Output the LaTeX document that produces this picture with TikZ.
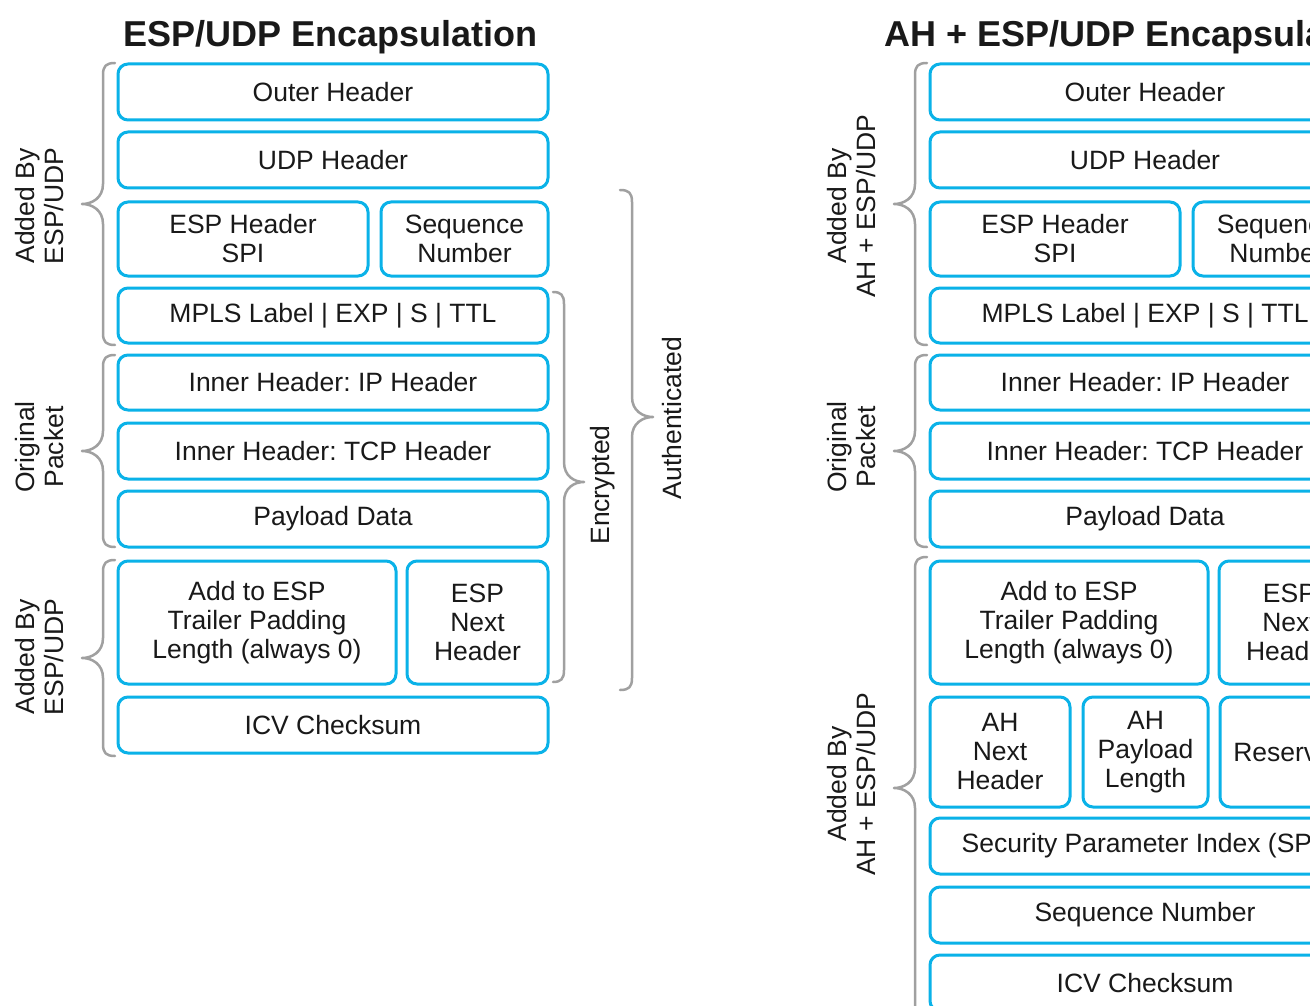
\documentclass[tikz,border=0pt]{standalone}
\usepackage{fontspec}
\setmainfont{Liberation Sans}
\frenchspacing
\definecolor{boxc}{RGB}{10,178,232}
\definecolor{brc}{RGB}{160,160,160}
\definecolor{txt}{RGB}{25,25,25}
\tikzset{
  pbox/.style={draw=boxc, line width=3pt, rounded corners=10pt, inner sep=0pt, outer sep=0pt,
    align=center, text=txt, font=\fontsize{26.5}{29}\selectfont},
  brc/.style={draw=brc, line width=2.5pt, line cap=round, line join=round},
  vlab/.style={rotate=90, align=center, text=txt, font=\fontsize{26.5}{29}\selectfont, inner sep=0pt},
  ttl/.style={anchor=base west, text=txt, font=\fontsize{36}{40}\selectfont\bfseries, inner sep=0pt}
}
\newcommand{\pbox}[6]{\node[pbox, minimum width={(#4-#2)*1pt}, minimum height={(#5-#3)*1pt}] (#1) at ({(#2+#4)/2},{(#3+#5)/2}) {#6};}
% brace pointing left: xe xv xt ytop ybot ytip
\newcommand{\bracL}[6]{\draw[brc] (#1,#4) .. controls (#2+3,#4) and (#2,#4+3) .. (#2,#4+12) -- (#2,#6-20) .. controls (#2,#6-6) and (#3+10,#6) .. (#3,#6) .. controls (#3+10,#6) and (#2,#6+6) .. (#2,#6+20) -- (#2,#5-12) .. controls (#2,#5-3) and (#2+3,#5) .. (#1,#5);}
% brace pointing right
\newcommand{\bracR}[6]{\draw[brc] (#1,#4) .. controls (#2-3,#4) and (#2,#4+3) .. (#2,#4+12) -- (#2,#6-20) .. controls (#2,#6-6) and (#3-10,#6) .. (#3,#6) .. controls (#3-10,#6) and (#2,#6+6) .. (#2,#6+20) -- (#2,#5-12) .. controls (#2,#5-3) and (#2-3,#5) .. (#1,#5);}
\begin{document}
\begin{tikzpicture}[x=1pt, y=-1pt]
\useasboundingbox (0,0) rectangle (1310,1006);
\clip (0,0) rectangle (1310,1006);
\fill[white] (0,0) rectangle (1310,1006);

% ---------- Left panel ----------
\node[ttl] (t1) at (123,47) {ESP/UDP Encapsulation};
\pbox{a1}{118}{64}{548}{120}{Outer Header}
\pbox{a2}{118}{132}{548}{188}{UDP Header}
\pbox{a3}{118}{202}{368}{276}{ESP Header\\SPI}
\pbox{a4}{381}{202}{548}{276}{Sequence\\Number}
\pbox{a5}{118}{288}{548}{343}{MPLS Label | EXP | S | TTL}
\pbox{a6}{118}{355}{548}{410}{Inner Header: IP Header}
\pbox{a7}{118}{423}{548}{479}{Inner Header: TCP Header}
\pbox{a8}{118}{491}{548}{547}{Payload Data}
\pbox{a9}{118}{561}{396}{684}{Add to ESP\\Trailer Padding\\Length (always 0)}
\pbox{a10}{407}{561}{548}{684}{ESP\\Next\\Header}
\pbox{a11}{118}{697}{548}{753}{ICV Checksum}

\bracL{115}{103}{82}{63}{345}{204}
\bracL{115}{103}{82}{355}{547}{451}
\bracL{115}{103}{82}{560}{756}{658}
\node[vlab] (l1) at (40,206) {Added By\\ESP/UDP};
\node[vlab] (l2) at (40,447) {Original\\Packet};
\node[vlab] (l3) at (40,657) {Added By\\ESP/UDP};

\bracR{553}{564}{584}{292}{682}{482}
\bracR{620}{632}{653}{190}{690}{417}
\node[vlab] (enc) at (603,485) {Encrypted};
\node[vlab] (auth) at (672,418) {Authenticated};

% ---------- Right panel ----------
\node[ttl] (t2) at (884,47) {AH + ESP/UDP Encapsulation};
\pbox{b1}{930}{64}{1360}{120}{Outer Header}
\pbox{b2}{930}{132}{1360}{188}{UDP Header}
\pbox{b3}{930}{202}{1180}{276}{ESP Header\\SPI}
\pbox{b4}{1193}{202}{1360}{276}{Sequence\\Number}
\pbox{b5}{930}{288}{1360}{343}{MPLS Label | EXP | S | TTL}
\pbox{b6}{930}{355}{1360}{410}{Inner Header: IP Header}
\pbox{b7}{930}{423}{1360}{479}{Inner Header: TCP Header}
\pbox{b8}{930}{491}{1360}{547}{Payload Data}
\pbox{b9}{930}{561}{1208}{684}{Add to ESP\\Trailer Padding\\Length (always 0)}
\pbox{b10}{1219}{561}{1360}{684}{ESP\\Next\\Header}
\pbox{b11}{930}{697}{1070}{807}{AH\\Next\\Header}
\pbox{b12}{1083}{697}{1208}{807}{AH\\Payload\\Length}
\pbox{b13}{1220}{697}{1360}{807}{Reserved}
\pbox{b14}{930}{818}{1360}{874}{Security Parameter Index (SPI)}
\pbox{b15}{930}{887}{1360}{943}{Sequence Number}
\pbox{b16}{930}{955}{1360}{1011}{ICV Checksum}

\bracL{927}{915}{894}{63}{345}{204}
\bracL{927}{915}{894}{355}{547}{451}
\bracL{927}{915}{894}{557}{1019}{788}
\node[vlab] (r1) at (852,206) {Added By\\AH + ESP/UDP};
\node[vlab] (r2) at (852,447) {Original\\Packet};
\node[vlab] (r3) at (852,784) {Added By\\AH + ESP/UDP};
\end{tikzpicture}
\end{document}
